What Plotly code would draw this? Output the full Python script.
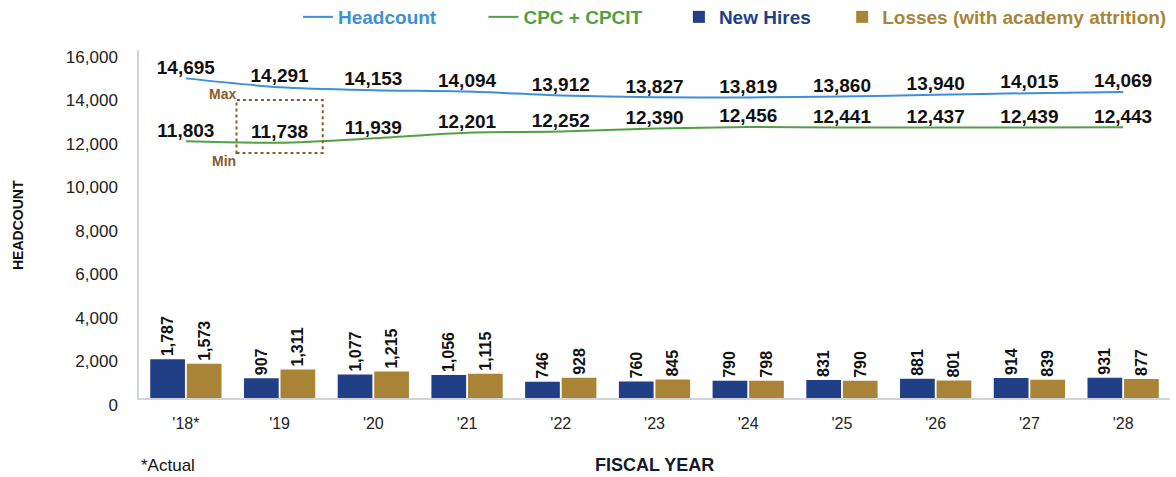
import plotly.graph_objects as go

years = ["'18*", "'19", "'20", "'21", "'22", "'23", "'24", "'25", "'26", "'27", "'28"]
headcount = [14695, 14291, 14153, 14094, 13912, 13827, 13819, 13860, 13940, 14015, 14069]
cpc = [11803, 11738, 11939, 12201, 12252, 12390, 12456, 12441, 12437, 12439, 12443]
new_hires = [1787, 907, 1077, 1056, 746, 760, 790, 831, 881, 914, 931]
losses = [1573, 1311, 1215, 1115, 928, 845, 798, 790, 801, 839, 877]

BLUE = "#3d8fda"
GREEN = "#52a044"
NAVY = "#213f86"
GOLD = "#a98437"
BROWN = "#8a5a2b"

SANS = "Liberation Sans, Arial, sans-serif"
NB = "&nbsp;"

def fmt(v):
    return f"{v:,}"

def legend_name(label, color, pad):
    return f"<span style='color:{color}'><b>{label}</b></span>" + NB * pad

fig = go.Figure()

fig.add_trace(go.Scatter(
    x=years, y=headcount, mode="lines+text", name=legend_name("Headcount", BLUE, 8),
    line=dict(color=BLUE, width=2, shape="spline", smoothing=0.8),
    text=[fmt(v) for v in headcount], textposition="top center",
    textfont=dict(family=SANS, size=19, color="#111", weight="bold"), cliponaxis=False,
))
fig.add_trace(go.Scatter(
    x=years, y=cpc, mode="lines+text", name=legend_name("CPC + CPCIT", GREEN, 6),
    line=dict(color=GREEN, width=2, shape="spline", smoothing=0.8),
    text=[fmt(v) for v in cpc], textposition="top center",
    textfont=dict(family=SANS, size=19, color="#111", weight="bold"), cliponaxis=False,
))
fig.add_trace(go.Bar(
    x=years, y=new_hires, name=legend_name("New Hires", NAVY, 5),
    marker=dict(color=NAVY, line=dict(width=0)),
    text=[fmt(v) for v in new_hires], textposition="outside", textangle=-90, constraintext="none",
    textfont=dict(family=SANS, size=16, color="#111", weight="bold"), cliponaxis=False,
))
fig.add_trace(go.Bar(
    x=years, y=losses, name=legend_name("Losses (with academy attrition)", GOLD, 0),
    marker=dict(color=GOLD, line=dict(width=0)),
    text=[fmt(v) for v in losses], textposition="outside", textangle=-90, constraintext="none",
    textfont=dict(family=SANS, size=16, color="#111", weight="bold"), cliponaxis=False,
))

# Min / Max box around '19
fig.add_shape(type="rect", xref="x", yref="y", x0=0.54, x1=1.46, y0=11264, y1=13700,
              line=dict(color=BROWN, width=2, dash="dot"))
fig.add_annotation(x=0.56, y=13700, xref="x", yref="y", text="<b>Max</b>", showarrow=False,
                   xanchor="right", yanchor="bottom", yshift=-4, font=dict(family=SANS, size=14, color=BROWN))
fig.add_annotation(x=0.56, y=11264, xref="x", yref="y", text="<b>Min</b>", showarrow=False,
                   xanchor="right", yanchor="top", yshift=2, font=dict(family=SANS, size=14, color=BROWN))

fig.add_annotation(x=139, y=465, xref="paper", yref="paper", text="*Actual", showarrow=False,
                   xanchor="left", yanchor="middle", font=dict(family=SANS, size=17, color="#111"))
fig.add_annotation(x=654, y=465, xref="paper", yref="paper", text="<b>FISCAL YEAR</b>", showarrow=False,
                   xanchor="center", yanchor="middle", font=dict(family=SANS, size=18, color="#141a2e"))
fig.add_annotation(x=18, y=225, xref="paper", yref="paper", text="<b>HEADCOUNT</b>", showarrow=False,
                   textangle=-90, xanchor="center", yanchor="middle", font=dict(family=SANS, size=14, color="#111"))

# convert pixel-positioned annotations to paper coords
PL, PR, PT, PB = 139, 6, 50, 79
W, H = 1176, 477
pw, ph = W - PL - PR, H - PT - PB
for a in fig.layout.annotations:
    if a.xref == "paper":
        a.x = (a.x - PL) / pw
        a.y = (H - PB - a.y) / ph

fig.update_layout(
    width=W, height=H,
    margin=dict(l=PL, r=PR, t=PT, b=PB, autoexpand=False),
    paper_bgcolor="white", plot_bgcolor="white",
    barmode="group", bargap=0.22, bargroupgap=0.05,
    showlegend=True,
    legend=dict(orientation="h", x=1 - 4 / W, xanchor="right", xref="container",
                y=1 - 17 / H, yanchor="middle", yref="container",
                font=dict(family=SANS, size=19), bgcolor="rgba(0,0,0,0)",
                traceorder="normal", itemwidth=30, tracegroupgap=0),
    font=dict(family=SANS, color="#222"),
)

fig.update_xaxes(
    type="category", range=[-0.5, 10.5], automargin=False,
    showline=True, linecolor="#cfd3da", linewidth=1.5, ticks="",
    tickfont=dict(family=SANS, size=16, color="#222"), ticklabelstandoff=10,
    showgrid=False, zeroline=False,
)
fig.update_yaxes(
    range=[0, 16000], tickvals=[0, 2000, 4000, 6000, 8000, 10000, 12000, 14000, 16000],
    tickformat=",", showline=True, linecolor="#cfd3da", linewidth=1.5, ticks="", automargin=False,
    tickfont=dict(family=SANS, size=17, color="#222"), ticklabelstandoff=16, ticklabelshift=7,
    showgrid=False, zeroline=False,
)

fig.write_html("out.html", config={"displayModeBar": False},
               post_script="document.body.style.margin='0';")
